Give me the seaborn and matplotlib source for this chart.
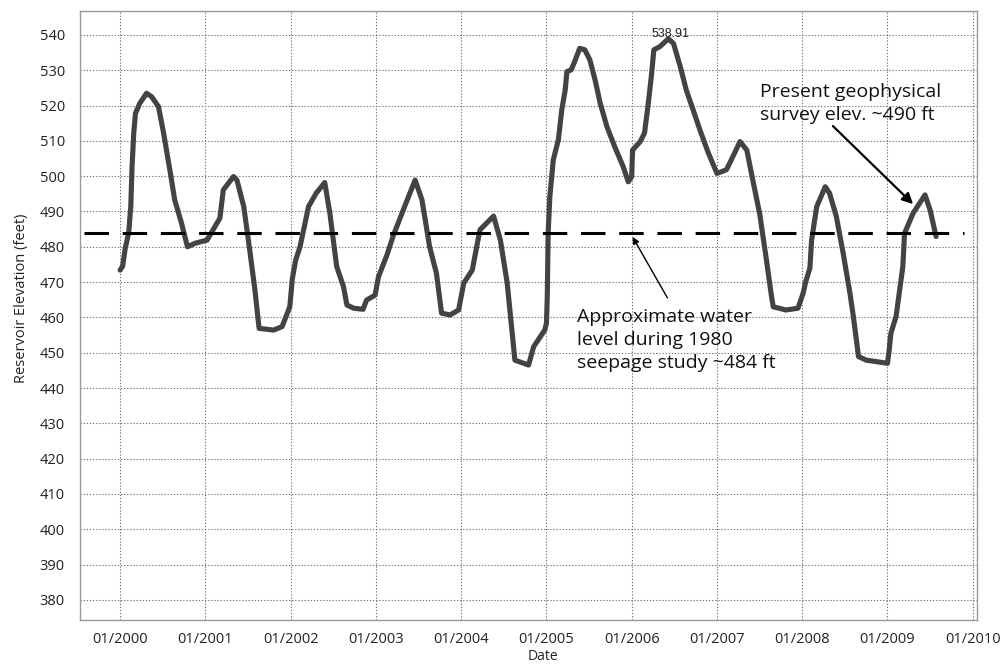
import matplotlib
matplotlib.use("Agg")
import matplotlib.pyplot as plt
import seaborn as sns
import pandas as pd
import numpy as np

# ---- data ----
years = [2000.00, 2000.03, 2000.06, 2000.10, 2000.125, 2000.14, 2000.16, 2000.18, 2000.23, 2000.31,
         2000.37, 2000.45, 2000.51, 2000.59, 2000.64, 2000.72, 2000.79, 2000.88, 2001.02, 2001.09,
         2001.17, 2001.21, 2001.27, 2001.33, 2001.37, 2001.45, 2001.52, 2001.58, 2001.63, 2001.80,
         2001.90, 2001.99, 2002.02, 2002.06, 2002.11, 2002.21, 2002.30, 2002.40, 2002.46, 2002.54,
         2002.62, 2002.66, 2002.74, 2002.85, 2002.89, 2002.99, 2003.03, 2003.13, 2003.20, 2003.32,
         2003.46, 2003.54, 2003.63, 2003.71, 2003.77, 2003.87, 2003.97, 2004.03, 2004.13, 2004.22,
         2004.38, 2004.46, 2004.54, 2004.63, 2004.79, 2004.85, 2004.98, 2005.00, 2005.01, 2005.02,
         2005.04, 2005.08, 2005.14, 2005.18, 2005.22, 2005.24, 2005.29, 2005.33, 2005.39, 2005.45,
         2005.51, 2005.57, 2005.63, 2005.71, 2005.80, 2005.90, 2005.96, 2006.00, 2006.01, 2006.10,
         2006.15, 2006.19, 2006.23, 2006.26, 2006.33, 2006.43, 2006.49, 2006.57, 2006.64, 2006.72,
         2006.80, 2006.90, 2007.00, 2007.11, 2007.15, 2007.27, 2007.35, 2007.42, 2007.50, 2007.58,
         2007.64, 2007.66, 2007.81, 2007.95, 2008.01, 2008.04, 2008.09, 2008.11, 2008.17, 2008.27,
         2008.32, 2008.40, 2008.48, 2008.56, 2008.60, 2008.66, 2008.75, 2009.00, 2009.02, 2009.04,
         2009.10, 2009.18, 2009.20, 2009.30, 2009.44, 2009.50, 2009.57]
elevation = [473.4, 474.5, 479.6, 483.8, 491.4, 502.7, 512.2, 517.8, 520.6, 523.5,
             522.5, 519.7, 512.2, 500.8, 493.3, 486.7, 480.0, 481.0, 481.9, 484.8,
             488.1, 496.1, 498.0, 499.9, 498.9, 491.4, 479.1, 468.0, 456.9, 456.4,
             457.4, 463.0, 471.0, 476.3, 480.0, 491.4, 495.2, 498.2, 489.5, 474.4,
             468.7, 463.5, 462.6, 462.3, 464.9, 466.3, 471.5, 477.7, 482.9, 490.4,
             498.9, 493.3, 480.0, 472.5, 461.2, 460.7, 462.1, 469.7, 473.4, 484.8,
             488.7, 481.9, 469.7, 447.9, 446.5, 451.7, 456.4, 458.3, 466.0, 483.8,
             494.2, 504.6, 510.3, 518.8, 524.4, 529.6, 530.1, 532.4, 536.2, 535.8,
             532.9, 527.3, 520.7, 514.0, 508.4, 502.7, 498.4, 499.9, 507.4, 509.8,
             512.2, 519.7, 528.2, 535.8, 536.7, 538.9, 537.6, 531.0, 524.4, 518.8,
             513.1, 506.5, 500.8, 501.8, 503.7, 509.8, 507.4, 498.9, 489.5, 476.3,
             465.9, 463.0, 462.1, 462.6, 466.8, 470.0, 474.0, 481.9, 491.4, 497.0,
             495.2, 488.6, 478.2, 466.8, 460.2, 448.9, 447.9, 447.0, 450.8, 455.5,
             460.2, 474.4, 483.8, 489.5, 494.7, 490.4, 482.9]
tick_years = [2000, 2001, 2002, 2003, 2004, 2005, 2006, 2007, 2008, 2009, 2010]
tick_labels = ["01/2000", "01/2001", "01/2002", "01/2003", "01/2004", "01/2005",
               "01/2006", "01/2007", "01/2008", "01/2009", "01/2010"]
y_ticks = list(range(380, 541, 10))
seepage_level = 484
peak_year, peak_value = 2006.45, 538.91
survey_head, survey_tail = (2009.30, 492.1), (2008.36, 514.2)
seepage_head, seepage_tail = (2006.01, 482.8), (2006.42, 465.5)

df = pd.DataFrame({"Date": years, "Elevation": elevation})

sns.set_theme(style="white")
plt.rcParams["font.family"] = ["Open Sans", "DejaVu Sans"]

fig = plt.figure(figsize=(10.03, 6.68), dpi=100)
ax = fig.add_axes([0.0798, 0.0719, 0.8943, 0.9117])

sns.lineplot(data=df, x="Date", y="Elevation", ax=ax, sort=False, estimator=None,
             color="#434343", linewidth=3.7, zorder=3)
for ln in ax.lines:
    ln.set_solid_joinstyle("round")
    ln.set_solid_capstyle("round")

ax.axhline(seepage_level, xmin=0.004, xmax=0.985, color="black", linewidth=2.2,
           dashes=(8, 4.5), zorder=4)

ax.set_xlim(1999.53, 2010.05)
ax.set_ylim(374.3, 546.8)
ax.set_xticks(tick_years)
ax.set_xticklabels(tick_labels)
ax.set_yticks(y_ticks)
ax.grid(True, color="#777777", linestyle=(0, (1.2, 1.6)), linewidth=0.8)
ax.tick_params(axis="both", length=0, labelsize=10.5, colors="#222222")
ax.tick_params(axis="y", pad=11)
ax.tick_params(axis="x", pad=9)
for s in ax.spines.values():
    s.set_color("#999999")
    s.set_linewidth(1.0)

ax.set_xlabel("Date", fontsize=10, color="#222222")
ax.set_ylabel("Reservoir Elevation (feet)", fontsize=10.5, color="#222222")
ax.xaxis.set_label_coords(0.516, -0.047)
ax.yaxis.set_label_coords(-0.057, 0.529)

ax.text(peak_year, 539.4, f"{peak_value:.2f}", family="Liberation Sans",
        fontsize=9, ha="center", va="baseline", color="#222222", zorder=5)

ax.text(2007.503, 515.9, "Present geophysical\nsurvey elev. ~490 ft", fontsize=14,
        color="#111111", ha="left", va="baseline", linespacing=1.35)
ax.annotate("", xy=survey_head, xytext=survey_tail,
            arrowprops=dict(arrowstyle="-|>", color="black", lw=1.6,
                            mutation_scale=16, shrinkA=0, shrinkB=0))

ax.text(2005.36, 445.7, "Approximate water\nlevel during 1980\nseepage study ~484 ft",
        fontsize=14, color="#111111", ha="left", va="baseline", linespacing=1.35)
ax.annotate("", xy=seepage_head, xytext=seepage_tail,
            arrowprops=dict(arrowstyle="-|>", color="black", lw=1.0,
                            mutation_scale=10, shrinkA=0, shrinkB=0))

fig.savefig("out.png", dpi=100)
